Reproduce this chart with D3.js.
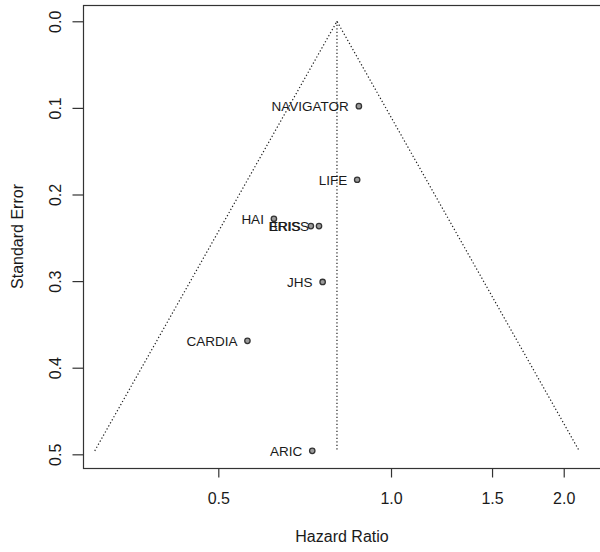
<!DOCTYPE html>
<html><head><meta charset="utf-8">
<script src="https://cdn.jsdelivr.net/npm/d3@7"></script>
<style>
body{margin:0;background:#fff;}
svg{display:block;font-family:"Liberation Sans",Arial,sans-serif;}
</style></head>
<body><svg id="c" width="600" height="552"></svg>
<script>
const studies = ["NAVIGATOR","LIFE","HAI","ERIS","BRISS","JHS","CARDIA","ARIC"];
const hazardRatio = [0.879,0.873,0.625,0.725,0.749,0.760,0.562,0.729];
const standardError = [0.098,0.183,0.228,0.2365,0.2365,0.301,0.369,0.496];
const pooledHR = 0.805;
const xTicks = [0.5,1.0,1.5,2.0];
const yTicks = [0.0,0.1,0.2,0.3,0.4,0.5];

const svg = d3.select("#c");
const L=83,T=5,R=601,B=468;
const x = d3.scaleLog().domain([0.2905,2.3227]).range([L,R]);
const y = d3.scaleLinear().domain([-0.0188,0.5158]).range([T,B]);
const txt="#1a1a1a";

const maxSe = d3.max(standardError);
const z = 1.96;
// funnel
const funnel = [
  [pooledHR*Math.exp(-z*maxSe), maxSe],
  [pooledHR, 0],
  [pooledHR*Math.exp(z*maxSe), maxSe]
];
svg.append("path")
  .attr("d", d3.line().x(d=>x(d[0])).y(d=>y(d[1]))(funnel))
  .attr("fill","none").attr("stroke","#222").attr("stroke-width",1.2)
  .attr("stroke-dasharray","1.3,2.2");
svg.append("line")
  .attr("x1",x(pooledHR)).attr("x2",x(pooledHR))
  .attr("y1",y(0)).attr("y2",y(maxSe))
  .attr("stroke","#222").attr("stroke-width",1.2)
  .attr("stroke-dasharray","1.3,2.2");

// box
svg.append("rect").attr("x",L+0.5).attr("y",T+0.5).attr("width",R-L).attr("height",B-T)
  .attr("fill","none").attr("stroke","#333").attr("stroke-width",1.2);

// x axis
const xa = svg.append("g").attr("transform",`translate(0,${B+0.5})`)
  .call(d3.axisBottom(x).tickValues(xTicks).tickFormat(d3.format(".1f")).tickSize(9).tickPadding(15));
xa.select(".domain").remove();
xa.selectAll("line").attr("stroke","#333").attr("stroke-width",1.2);
xa.selectAll("text").attr("fill",txt).style("font-size","16px");

// y axis
const ya = svg.append("g").attr("transform",`translate(${L+0.5},0)`)
  .call(d3.axisLeft(y).tickValues(yTicks).tickFormat(d3.format(".1f")).tickSize(11).tickPadding(0));
ya.select(".domain").remove();
ya.selectAll("line").attr("stroke","#333").attr("stroke-width",1.2);
ya.selectAll("text").remove();
ya.selectAll(".tick").append("text")
  .attr("transform","translate(-28,0) rotate(-90)")
  .attr("text-anchor","middle").attr("dy","0.35em")
  .attr("fill",txt).style("font-size","16px")
  .text(d=>d3.format(".1f")(d));

// axis titles
svg.append("text").attr("x",(L+R)/2).attr("y",542).attr("text-anchor","middle")
  .attr("fill",txt).style("font-size","16px").text("Hazard Ratio");
svg.append("text").attr("transform",`translate(17,${(T+B)/2}) rotate(-90)`)
  .attr("text-anchor","middle").attr("dy","0.35em")
  .attr("fill",txt).style("font-size","16px").text("Standard Error");

// points
const data = studies.map((s,i)=>({s,hr:hazardRatio[i],se:standardError[i]}));
svg.selectAll("circle.pt").data(data).enter().append("circle")
  .attr("class","pt").attr("cx",d=>x(d.hr)).attr("cy",d=>y(d.se)).attr("r",2.7)
  .attr("fill","#9a9a9a").attr("stroke","#333").attr("stroke-width",1.3);
svg.selectAll("text.lab").data(data).enter().append("text")
  .attr("class","lab").attr("x",d=>x(d.hr)-10).attr("y",d=>y(d.se)).attr("dy","0.36em")
  .attr("text-anchor","end").attr("fill",txt).style("font-size","13.5px")
  .text(d=>d.s);
</script></body></html>
